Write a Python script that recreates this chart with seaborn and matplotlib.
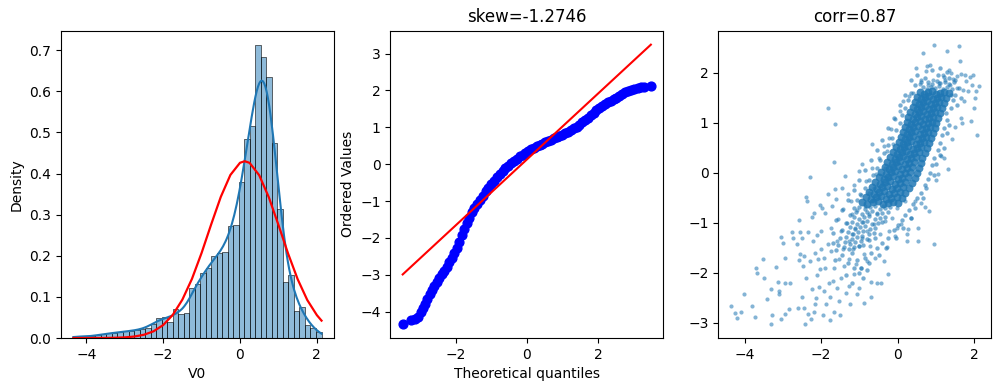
import numpy as np
import matplotlib
matplotlib.use('Agg')
import matplotlib.pyplot as plt
import seaborn as sns

# V0 histogram (density per bin, 45 bins between min and max)
v0_min, v0_max = -4.335, 2.121
hist_heights = [0.005, 0.005, 0.002, 0.005, 0.007, 0.010, 0.012, 0.012, 0.014, 0.017,
                0.017, 0.019, 0.022, 0.025, 0.035, 0.048, 0.051, 0.039, 0.071, 0.059,
                0.061, 0.122, 0.132, 0.158, 0.171, 0.200, 0.207, 0.209, 0.273, 0.275,
                0.380, 0.486, 0.517, 0.714, 0.685, 0.636, 0.476, 0.314, 0.136, 0.153,
                0.066, 0.076, 0.032, 0.024, 0.015]

# fitted normal curve
norm_x = [-4.335, -4.0, -3.75, -3.5, -3.25, -3.0, -2.75, -2.5, -2.25, -2.0, -1.75, -1.5,
          -1.25, -1.0, -0.75, -0.5, -0.25, 0.0, 0.123, 0.25, 0.5, 0.75, 1.0, 1.25, 1.5,
          1.75, 2.0, 2.121]
norm_y = [0.0, 0.0, 0.0001, 0.0002, 0.0006, 0.0015, 0.0036, 0.0079, 0.0163, 0.0314,
          0.0561, 0.0932, 0.1438, 0.2067, 0.2762, 0.3431, 0.3965, 0.4261, 0.4299, 0.4259,
          0.3958, 0.3422, 0.2751, 0.2057, 0.1430, 0.0924, 0.0556, 0.0423]

# probability plot
qq_theory = [-3.49, -3.26, -3.15, -3.05, -2.97, -2.91, -2.86, -2.80, -2.72, -2.66, -2.60,
             -2.53, -2.46, -2.39, -2.32, -2.25, -2.18, -2.11, -2.04, -1.97, -1.90, -1.83,
             -1.76, -1.69, -1.62, -1.55, -1.48, -1.40, -1.32, -1.24, -1.16, -1.08, -1.00,
             -0.92, -0.84, -0.76, -0.68, -0.60, -0.52, -0.44, -0.36, -0.28, -0.20, -0.12,
             -0.04, 0.04, 0.12, 0.20, 0.28, 0.36, 0.44, 0.52, 0.60, 0.68, 0.76, 0.84, 0.92,
             1.00, 1.08, 1.16, 1.24, 1.32, 1.40, 1.48, 1.56, 1.64, 1.72, 1.80, 1.88, 1.96,
             2.04, 2.12, 2.20, 2.28, 2.36, 2.44, 2.52, 2.60, 2.68, 2.76, 2.84, 2.93, 3.02,
             3.12, 3.22, 3.30, 3.49]
qq_ordered = [-4.335, -4.23, -4.21, -4.14, -4.02, -3.91, -3.78, -3.66, -3.52, -3.40, -3.30,
              -3.20, -3.09, -2.99, -2.90, -2.78, -2.66, -2.54, -2.41, -2.26, -2.10, -1.93,
              -1.76, -1.60, -1.45, -1.31, -1.19, -1.07, -0.96, -0.85, -0.74, -0.64, -0.54,
              -0.45, -0.36, -0.27, -0.19, -0.11, -0.04, 0.03, 0.09, 0.15, 0.21, 0.26,
              0.31, 0.36, 0.40, 0.44, 0.48, 0.52, 0.56, 0.59, 0.63, 0.66, 0.70, 0.73, 0.77,
              0.80, 0.84, 0.88, 0.92, 0.97, 1.02, 1.07, 1.13, 1.19, 1.26, 1.33, 1.40, 1.47,
              1.53, 1.59, 1.64, 1.68, 1.72, 1.76, 1.80, 1.85, 1.90, 1.95, 1.99, 2.02, 2.04,
              2.06, 2.08, 2.09, 2.121]
qq_line_x = [-3.49, 3.49]
qq_line_y = [-2.99, 3.24]

# scatter V0 vs target: sparse points
sc_x = [-4.36, -4.26, -4.19, -4.08, -4.01, -3.81, -3.73, -3.69, -3.67, -3.52, -3.49, -3.42,
        -3.32, -3.28, -3.32, -3.17, -3.13, -3.10, -3.09, -3.06, -3.05, -2.99, -2.93, -2.95,
        -2.95, -2.84, -2.82, -2.76, -2.73, -2.64, -2.61, -2.59, -2.58, -2.56, -2.54, -2.50,
        -2.50, -2.47, -2.45, -2.44, -2.43, -2.40, -2.39, -2.37, -2.35, -2.34, -2.30, -2.28,
        -2.26, -2.24, -2.23, -2.22, -2.19, -2.18, -2.16, -2.16, -2.13, -2.12, -2.11, -2.09,
        -2.06, -2.04, -2.02, -2.00, -1.99, -1.98, -1.95, -1.93, -1.92, -1.89, -1.89, -1.87,
        -1.83, -1.83, -1.82, -1.80, -1.78, -1.76, -1.74, -1.73, -1.72, -1.70, -1.67, -1.66,
        -1.66, -1.63, -1.63, -1.60, -1.59, -1.59, -1.57, -1.54, -1.52, -1.50, -1.48, -1.47,
        -1.46, -1.43, -1.43, -1.40, -1.37, -1.35, -1.33, -1.31, -1.28, -1.27, -1.26, -1.24,
        -1.22, -1.20, -1.20, -1.17, -1.15, -1.14, -1.11, -1.09, -1.07, -1.05, -1.02, -1.01,
        -1.00, -0.98, -0.96, -0.94, -0.93, -0.91, -0.89, -0.87, -0.85, -0.83, -0.81, -0.79,
        -0.76, -0.74, -0.72, -0.70, -0.69, -0.68, -0.68, -0.65, -0.63, -0.62, -0.59, -0.56,
        -0.55, -0.53, -0.50, -0.48, -0.46, -0.44, -0.42, -0.39, -0.37, -0.36, -0.33, -0.32,
        -0.30, -0.29, -0.27, -0.26, -0.24, -0.23, -0.22, -0.20, -0.17, -0.16, -0.14, -0.11,
        -0.09, -0.07, -0.06, -0.03, -0.01, 0.06, 0.08, 0.13, 0.19, 0.23, 0.25, 0.28,
        0.30, 0.34, 0.41, 0.45, 0.49, 0.52, 0.54, 0.58, 0.60, 0.62, 0.67, 0.71,
        0.75, 0.77, 0.80, 0.82, 0.84, 0.91, 0.94, 0.95, 0.99, 1.06, 1.08, 1.14,
        1.17, 1.21, 1.23, 1.29, 1.32, 1.34, 1.36, 1.38, 1.41, 1.45, 1.49, 1.54,
        1.56, 1.60, 1.62, 1.64, 1.66, 1.69, 1.71, 1.73, 1.75, 1.79, 1.84, 1.88,
        1.92, 1.95, 1.97, 1.99, 2.01, 2.04, 2.07, 2.12]
sc_y = [-2.66, -2.81, -2.91, -2.78, -2.43, -2.66, -2.88, -1.90, -2.00, -1.73, -2.11, -2.52,
        -2.33, -2.85, -3.03, -1.88, -2.18, -2.36, -2.43, -1.28, -2.93, -1.40, -1.71, -2.20,
        -2.83, -2.73, -2.20, -1.18, -1.30, -1.42, -2.71, -0.95, -1.75, -1.63, -1.18, -1.30,
        -2.48, -1.86, -2.70, -1.66, -3.03, -2.11, -0.49, -0.57, -2.83, -1.18, -1.76, -0.09,
        -2.93, -2.33, -0.89, -1.36, -2.78, -0.80, -1.61, -2.62, -2.50, -2.04, -1.25, -1.73,
        -2.28, -0.65, -1.93, -1.17, -1.53, -0.70, -2.84, -2.36, -1.70, -0.81, -1.90, -2.63,
        1.29, -1.42, -0.42, -2.20, -2.48, -2.95, -1.10, -1.56, -0.67, -2.16, -2.78, 0.21,
        -1.90, 0.98, -0.33, -0.53, -1.36, -2.30, -0.93, -1.73, -2.56, -2.84, -2.10, -1.17,
        -0.30, -1.52, -0.73, -1.87, -0.07, -2.40, -1.00, -0.43, -1.36, -2.26, -1.73, -2.63,
        -0.57, -0.83, -1.23, -1.53, -2.03, -0.25, -1.10, -1.83, -2.43, -0.75, -1.46, -2.30,
        0.03, -0.43, -1.90, 0.17, -1.30, -0.98, -1.63, -2.60, -0.67, -0.17, -1.17, -1.76,
        -0.40, -0.83, -1.46, -2.48, -2.18, 0.57, 0.10, -0.57, -1.03, -0.30, -1.71, -0.03,
        -0.80, -2.20, 0.30, -0.49, -1.23, -2.20, -0.20, -0.67, 0.53, -1.76, 0.10, -0.97,
        -0.43, -1.49, 0.43, -2.03, 0.70, -0.10, -1.17, -0.57, 0.88, 0.23, -0.90, 0.57,
        -0.30, 1.07, -1.26, -1.10, -0.70, 1.23, -1.03, 1.43, -0.57, -1.36, -1.23, -1.13,
        1.53, -0.90, 1.60, -0.57, 2.10, -1.36, -1.10, 1.78, -0.60, 1.86, 2.40, -0.69,
        2.03, 2.13, 1.76, -0.77, 2.16, 1.85, -1.43, 2.56, -0.15, -0.02, 1.80, 0.33,
        1.96, 0.30, 1.86, 2.44, 0.07, 2.06, 1.76, 2.00, 0.67, 1.88, 0.91, 1.93,
        1.70, 2.53, 2.24, 1.09, 1.98, 1.00, 1.66, 1.44, 1.96, 1.83, 1.63, 1.91,
        1.03, 1.76, 1.95, 1.30, 1.50, 1.64, 0.75, 1.74]

# scatter V0 vs target: points around the core
fr_x = [1.25, 1.30, 1.20, 1.15, 1.10, 1.05, 0.95, 0.90, 0.85, 0.80, 0.70, 0.60,
        0.50, 0.40, 0.30, 0.20, 0.10, 0.00, -0.10, -0.25, -0.40, -0.55, -0.70, -0.85,
        1.40, 1.35, 1.28, 1.20, 1.10, 1.00, 0.95, 0.75, 0.65, 0.45, 0.35, 0.15,
        -0.05, -0.30, -0.50, -0.75, -0.95,
        0.50, 0.45, 0.35, 0.28, 0.20, 0.12, 0.05, -0.05, -0.15, -0.25, -0.35, -0.45,
        -0.55, -0.65, -0.75, -0.85, -0.95, -1.05, -1.15, -1.25, -1.35, -1.45, -1.50, -1.55,
        0.35, 0.20, 0.05, -0.10, -0.25, -0.40, -0.55, -0.70, -0.85, -1.00, -1.15, -1.30,
        -1.45, -1.60, -1.70,
        0.90, 1.05, 1.20, 1.35, 1.50, 1.60, 1.50, 1.45, 1.55, 1.40, 1.65, 0.70,
        0.60, 1.10, 1.30,
        -1.20, -1.05, -0.90, -1.30, -1.45, -1.00, -1.15, -0.60, -0.75, -1.60, -1.70, -1.65,
        -1.35, -1.20, -0.90, -0.80,
        # upper and lower ends of the core band
        0.78, 0.90, 1.02, 1.11, 1.24, 1.35, 1.46,
        0.66, 0.77, 0.88, 0.97, 1.09, 1.19, 1.30, 1.41,
        -1.00, -0.86, -0.72, -0.59, -0.46, -0.33, -0.19,
        -1.08, -0.94, -0.80, -0.67, -0.53, -0.40, -0.25,
        -1.14, -1.00, -0.87, -0.74, -0.60, -0.46, -0.32,
        -1.20, -1.06, -0.93, -0.80, -0.66, -0.52, -0.40,
        -1.25, -1.11, -0.98, -0.85, -0.72, -0.58,
        -1.30, -1.16, -1.03, -0.90, -0.76, -0.63,
        -1.34, -1.20, -1.07, -0.93, -0.80,
        -1.38, -1.25, -1.11, -0.97,
        -1.40, -1.27, -1.13, -1.00]
fr_y = [1.20, 1.05, 0.90, 0.75, 0.60, 0.45, 0.30, 0.15, 0.00, -0.12, -0.25, -0.40,
        -0.50, -0.62, -0.75, -0.85, -0.95, -1.05, -1.15, -1.30, -1.40, -1.50, -1.60, -1.70,
        1.30, 0.95, 0.80, 0.50, 0.35, 0.18, -0.05, -0.30, -0.50, -0.70, -0.90, -1.10,
        -1.30, -1.50, -1.65, -1.80, -1.90,
        1.95, 1.75, 1.60, 1.45, 1.30, 1.15, 1.00, 0.85, 0.70, 0.55, 0.40, 0.25,
        0.10, -0.05, -0.15, -0.30, -0.45, -0.55, -0.70, -0.85, -1.00, -1.15, -1.30, -1.45,
        1.85, 1.55, 1.35, 1.10, 0.90, 0.65, 0.45, 0.25, 0.05, -0.15, -0.35, -0.55,
        -0.75, -0.95, -1.20,
        2.05, 1.95, 1.92, 1.90, 1.85, 1.70, 1.55, 1.45, 1.35, 1.55, 1.50, 1.90,
        1.82, 2.10, 2.02,
        -1.60, -1.75, -1.45, -1.80, -1.65, -2.00, -1.90, -1.30, -1.35, -1.55, -1.40, -1.75,
        -2.05, -2.20, -2.10, -1.95,
        1.82, 1.77, 1.83, 1.79, 1.81, 1.78, 1.82,
        1.71, 1.68, 1.72, 1.69, 1.73, 1.67, 1.71, 1.68,
        -0.68, -0.72, -0.69, -0.67, -0.73, -0.70, -0.68,
        -0.78, -0.82, -0.79, -0.77, -0.83, -0.80, -0.78,
        -0.88, -0.92, -0.89, -0.87, -0.93, -0.90, -0.88,
        -0.98, -1.02, -0.99, -0.97, -1.03, -1.00, -0.98,
        -1.08, -1.12, -1.09, -1.07, -1.13, -1.10,
        -1.18, -1.22, -1.19, -1.17, -1.23, -1.20,
        -1.28, -1.32, -1.29, -1.27, -1.33,
        -1.38, -1.42, -1.39, -1.37,
        -1.48, -1.52, -1.49, -1.47]

# scatter V0 vs target: dense core of the cloud
core_x = [0.57, 0.68, 0.79, 0.90, 1.00, 1.10, 1.21, 1.33,
          0.50, 0.61, 0.71, 0.82, 0.93, 1.03, 1.14, 1.26,
          0.44, 0.55, 0.66, 0.76, 0.87, 0.98, 1.08, 1.20,
          0.39, 0.50, 0.61, 0.71, 0.82, 0.92, 1.03, 1.16,
          0.33, 0.44, 0.55, 0.66, 0.77, 0.87, 0.98, 1.10,
          0.28, 0.39, 0.50, 0.61, 0.72, 0.82, 0.93, 1.05,
          0.24, 0.35, 0.46, 0.57, 0.67, 0.78, 0.89, 1.01,
          0.19, 0.30, 0.41, 0.52, 0.63, 0.74, 0.85, 0.97,
          0.13, 0.24, 0.35, 0.46, 0.57, 0.68, 0.79, 0.92,
          0.08, 0.19, 0.30, 0.41, 0.52, 0.63, 0.74, 0.87,
          0.03, 0.14, 0.25, 0.36, 0.47, 0.58, 0.69, 0.82,
          -0.05, 0.06, 0.17, 0.28, 0.39, 0.50, 0.61, 0.76,
          -0.12, -0.01, 0.10, 0.21, 0.32, 0.43, 0.55, 0.71,
          -0.20, -0.08, 0.03, 0.14, 0.25, 0.36, 0.48, 0.64,
          -0.28, -0.16, -0.05, 0.06, 0.18, 0.30, 0.42, 0.60,
          -0.34, -0.22, -0.11, 0.00, 0.12, 0.24, 0.37, 0.55,
          -0.43, -0.30, -0.18, -0.06, 0.06, 0.18, 0.31, 0.50,
          -0.50, -0.37, -0.25, -0.13, 0.00, 0.12, 0.26, 0.44,
          -0.58, -0.45, -0.32, -0.20, -0.07, 0.06, 0.20, 0.38,
          -0.67, -0.54, -0.41, -0.28, -0.15, -0.02, 0.13, 0.30,
          -0.74, -0.61, -0.48, -0.35, -0.22, -0.09, 0.06, 0.20,
          -0.83, -0.70, -0.57, -0.44, -0.31, -0.18, -0.03, 0.12,
          -0.93, -0.79, -0.65, -0.52, -0.39, -0.26, -0.12, 0.02]
core_y = [1.62, 1.58, 1.61, 1.63, 1.57, 1.60, 1.62, 1.59,
          1.52, 1.48, 1.51, 1.53, 1.47, 1.50, 1.52, 1.49,
          1.42, 1.38, 1.41, 1.43, 1.37, 1.40, 1.42, 1.39,
          1.32, 1.28, 1.31, 1.33, 1.27, 1.30, 1.32, 1.29,
          1.22, 1.18, 1.21, 1.23, 1.17, 1.20, 1.22, 1.19,
          1.12, 1.08, 1.11, 1.13, 1.07, 1.10, 1.12, 1.09,
          1.02, 0.98, 1.01, 1.03, 0.97, 1.00, 1.02, 0.99,
          0.92, 0.88, 0.91, 0.93, 0.87, 0.90, 0.92, 0.89,
          0.82, 0.78, 0.81, 0.83, 0.77, 0.80, 0.82, 0.79,
          0.72, 0.68, 0.71, 0.73, 0.67, 0.70, 0.72, 0.69,
          0.62, 0.58, 0.61, 0.63, 0.57, 0.60, 0.62, 0.59,
          0.52, 0.48, 0.51, 0.53, 0.47, 0.50, 0.52, 0.49,
          0.42, 0.38, 0.41, 0.43, 0.37, 0.40, 0.42, 0.39,
          0.32, 0.28, 0.31, 0.33, 0.27, 0.30, 0.32, 0.29,
          0.22, 0.18, 0.21, 0.23, 0.17, 0.20, 0.22, 0.19,
          0.12, 0.08, 0.11, 0.13, 0.07, 0.10, 0.12, 0.09,
          0.02, -0.02, 0.01, 0.03, -0.03, 0.00, 0.02, -0.01,
          -0.08, -0.12, -0.09, -0.07, -0.13, -0.10, -0.08, -0.11,
          -0.18, -0.22, -0.19, -0.17, -0.23, -0.20, -0.18, -0.21,
          -0.28, -0.32, -0.29, -0.27, -0.33, -0.30, -0.28, -0.31,
          -0.38, -0.42, -0.39, -0.37, -0.43, -0.40, -0.38, -0.41,
          -0.48, -0.52, -0.49, -0.47, -0.53, -0.50, -0.48, -0.51,
          -0.58, -0.62, -0.59, -0.57, -0.63, -0.60, -0.58, -0.61]

skew_title = 'skew=-1.2746'
corr_title = 'corr=0.87'

fig = plt.figure(figsize=(10.01, 3.91), dpi=100)
ax1 = fig.add_axes([0.0609, 0.1355, 0.2727, 0.786])
ax2 = fig.add_axes([0.3899, 0.1355, 0.2727, 0.786])
ax3 = fig.add_axes([0.7176, 0.1355, 0.2727, 0.786])

# panel 1: histogram + kde + normal fit
n_bins = len(hist_heights)
edges = np.linspace(v0_min, v0_max, n_bins + 1)
centers = (edges[:-1] + edges[1:]) / 2
sns.histplot(x=centers, weights=hist_heights, bins=n_bins, binrange=(v0_min, v0_max),
             stat='density', kde=True, ax=ax1,
             kde_kws={'bw_adjust': 0.36, 'cut': 3, 'clip': (v0_min, v0_max)})
sns.lineplot(x=norm_x, y=norm_y, color='red', linewidth=1.6, ax=ax1)
ax1.set_xlabel('V0')
ax1.set_ylabel('Density')

# panel 2: probability plot
sns.scatterplot(x=qq_theory, y=qq_ordered, color='blue', s=40, edgecolor='blue',
                linewidth=1, ax=ax2, zorder=2)
sns.lineplot(x=qq_line_x, y=qq_line_y, color='red', linewidth=1.5, ax=ax2, zorder=3)
ax2.set_title(skew_title)
ax2.set_xlabel('Theoretical quantiles')
ax2.set_ylabel('Ordered Values')

# panel 3: scatter with target
sns.scatterplot(x=core_x, y=core_y, color='#1f77b4', s=32, alpha=0.85, linewidth=0, ax=ax3)
sns.scatterplot(x=fr_x, y=fr_y, color='#1f77b4', s=10, alpha=0.6, linewidth=0, ax=ax3)
sns.scatterplot(x=sc_x, y=sc_y, color='#1f77b4', s=9, alpha=0.55, linewidth=0, ax=ax3)
ax3.set_title(corr_title)

fig.savefig('out.png', dpi=100)
